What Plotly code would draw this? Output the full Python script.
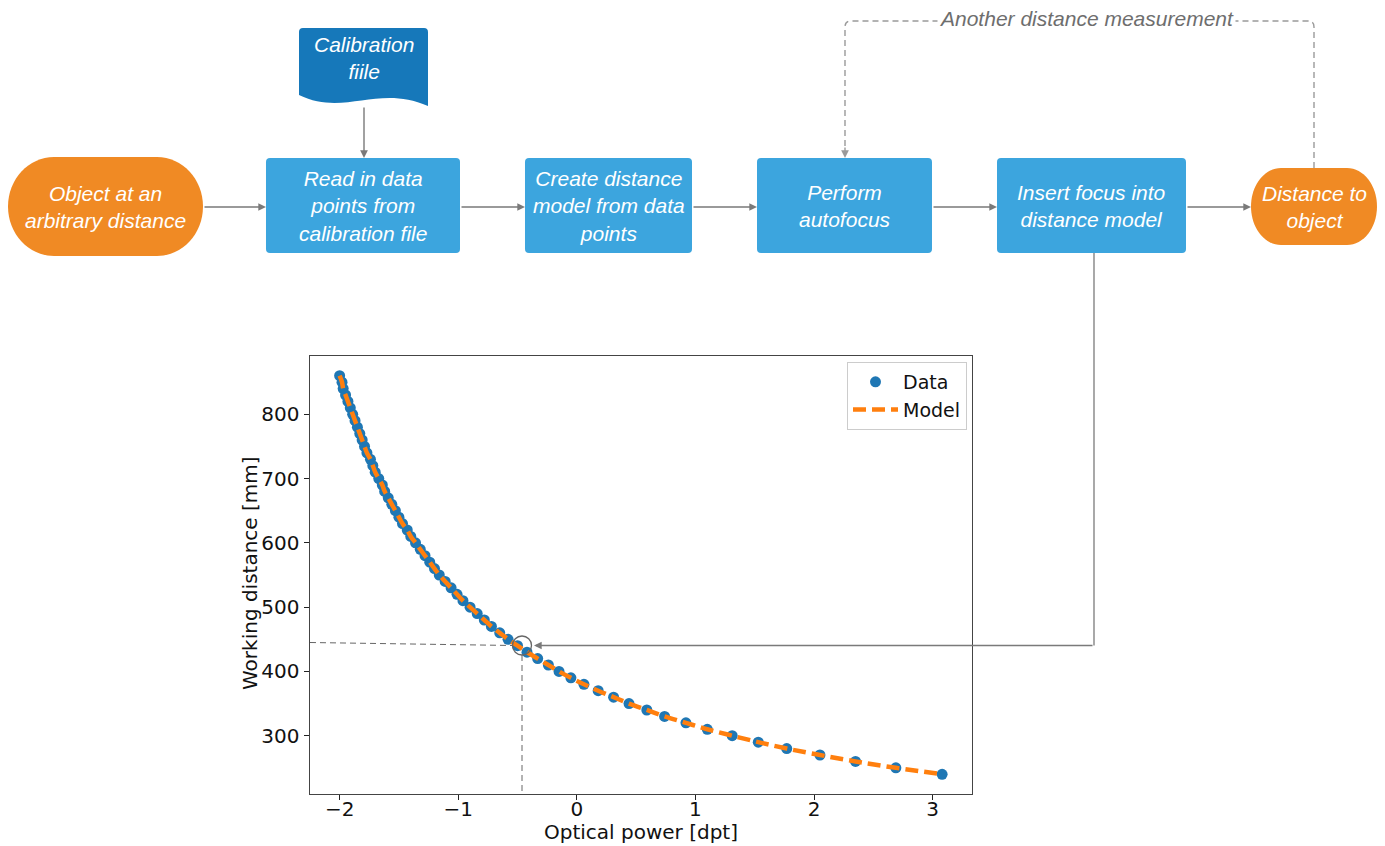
import plotly.graph_objects as go

# ---------------- data ----------------
distance_mm = [860, 850, 840, 830, 820, 810, 800, 790, 780, 770, 760, 750, 740, 730,
               720, 710, 700, 690, 680, 670, 660, 650, 640, 630, 620, 610, 600, 590,
               580, 570, 560, 550, 540, 530, 520, 510, 500, 490, 480, 470, 460, 450,
               440, 430, 420, 410, 400, 390, 380, 370, 360, 350, 340, 330, 320, 310,
               300, 290, 280, 270, 260, 250, 240]
power_dpt = [-2.00, -1.98, -1.97, -1.95, -1.93, -1.91, -1.89, -1.87, -1.85, -1.83,
             -1.81, -1.79, -1.77, -1.74, -1.72, -1.70, -1.67, -1.64, -1.62, -1.59,
             -1.56, -1.53, -1.50, -1.47, -1.43, -1.40, -1.36, -1.32, -1.28, -1.24,
             -1.20, -1.16, -1.11, -1.06, -1.01, -0.96, -0.90, -0.84, -0.78, -0.72,
             -0.65, -0.58, -0.50, -0.42, -0.33, -0.24, -0.15, -0.05, 0.06, 0.18,
             0.31, 0.44, 0.59, 0.74, 0.92, 1.10, 1.31, 1.53, 1.77, 2.05,
             2.35, 2.69, 3.08]
model_power = power_dpt
model_distance = distance_mm

x_tickvals = [-2, -1, 0, 1, 2, 3]
x_ticktext = ["\u22122", "\u22121", "0", "1", "2", "3"]
y_tickvals = [300, 400, 500, 600, 700, 800]
y_ticktext = ["300", "400", "500", "600", "700", "800"]
x_title = "Optical power [dpt]"
y_title = "Working distance [mm]"

flow_labels = {
    "start": "Object at an<br>arbitrary distance",
    "file": "Calibration<br>fiile",
    "read": "Read in data<br>points from<br>calibration file",
    "model": "Create distance<br>model from data<br>points",
    "focus": "Perform<br>autofocus",
    "insert": "Insert focus into<br>distance model",
    "end": "Distance to<br>object",
    "loop": "Another distance measurement",
}

# ---------------- layout helpers ----------------
# the page body has an 8px margin, so the figure starts at (8, 8) in the window
OFF = 8
W, H = 1385 - OFF, 846 - OFF


def px(x):
    return (x - OFF) / W


def py(y):
    return 1 - (y - OFF) / H


def pt(x, y):
    return f"{px(x):.5f},{py(y):.5f}"


def rrect(x0, y0, x1, y1, r):
    return (f"M {pt(x0 + r, y0)} L {pt(x1 - r, y0)} Q {pt(x1, y0)} {pt(x1, y0 + r)} "
            f"L {pt(x1, y1 - r)} Q {pt(x1, y1)} {pt(x1 - r, y1)} "
            f"L {pt(x0 + r, y1)} Q {pt(x0, y1)} {pt(x0, y1 - r)} "
            f"L {pt(x0, y0 + r)} Q {pt(x0, y0)} {pt(x0 + r, y0)} Z")


def terminator(x0, y0, x1, y1, rx, ry):
    k = 0.5523
    return (f"M {pt(x0 + rx, y0)} L {pt(x1 - rx, y0)} "
            f"C {pt(x1 - rx + k * rx, y0)} {pt(x1, y0 + ry - k * ry)} {pt(x1, y0 + ry)} "
            f"L {pt(x1, y1 - ry)} "
            f"C {pt(x1, y1 - ry + k * ry)} {pt(x1 - rx + k * rx, y1)} {pt(x1 - rx, y1)} "
            f"L {pt(x0 + rx, y1)} "
            f"C {pt(x0 + rx - k * rx, y1)} {pt(x0, y1 - ry + k * ry)} {pt(x0, y1 - ry)} "
            f"L {pt(x0, y0 + ry)} "
            f"C {pt(x0, y0 + ry - k * ry)} {pt(x0 + rx - k * rx, y0)} {pt(x0 + rx, y0)} Z")


def document(x0, y0, x1, yl, yr, r):
    return (f"M {pt(x0 + r, y0)} L {pt(x1 - r, y0)} Q {pt(x1, y0)} {pt(x1, y0 + r)} "
            f"L {pt(x1, yr)} C {pt(x1 - 50, yr - 22)} {pt(x0 + 45, yl + 22)} {pt(x0, yl)} "
            f"L {pt(x0, y0 + r)} Q {pt(x0, y0)} {pt(x0 + r, y0)} Z")


ORANGE = "rgb(240,138,36)"
BLUE = "rgb(60,165,222)"
DARKBLUE = "rgb(22,120,186)"
GRAY = "#7a7a7a"
LGRAY = "#9a9a9a"

shapes = []
annotations = []

# flow boxes
shapes.append(dict(type="path", xref="paper", yref="paper", path=terminator(8, 157, 203, 256, 46, 49.5),
                   fillcolor=ORANGE, line=dict(width=0)))
shapes.append(dict(type="path", xref="paper", yref="paper", path=document(299, 28, 428, 95, 106, 4),
                   fillcolor=DARKBLUE, line=dict(width=0)))
boxes = [(266, 460, "read"), (525, 692, "model"), (757, 932, "focus"), (997, 1186, "insert")]
for x0, x1, key in boxes:
    shapes.append(dict(type="path", xref="paper", yref="paper", path=rrect(x0, 158, x1, 253, 4),
                       fillcolor=BLUE, line=dict(width=0)))
shapes.append(dict(type="path", xref="paper", yref="paper", path=terminator(1251, 168, 1377, 245, 30, 38.5),
                   fillcolor=ORANGE, line=dict(width=0)))

# dashed loop
shapes.append(dict(type="path", xref="paper", yref="paper",
                   path=(f"M {pt(1314, 168)} L {pt(1314, 27)} Q {pt(1314, 21)} {pt(1308, 21)} "
                         f"L {pt(851, 21)} Q {pt(845, 21)} {pt(845, 27)} L {pt(845, 150)}"),
                   line=dict(color=LGRAY, width=1.4, dash="6px,4px")))

# connector from "Insert focus" down to the curve
shapes.append(dict(type="line", xref="paper", yref="paper", x0=px(1094), y0=py(253), x1=px(1094), y1=py(645.5),
                   line=dict(color=GRAY, width=1.3)))

# crosshair at working point
shapes.append(dict(type="line", xref="paper", yref="paper", x0=px(310), y0=py(642.5), x1=px(513), y1=py(645.5),
                   line=dict(color="#666", width=1, dash="6px,4px")))
shapes.append(dict(type="line", xref="paper", yref="paper", x0=px(522), y0=py(655), x1=px(522), y1=py(794),
                   line=dict(color="#666", width=1, dash="6px,4px")))
shapes.append(dict(type="circle", xref="paper", yref="paper", x0=px(512.5), y0=py(636), x1=px(531.5), y1=py(655),
                   line=dict(color="#666", width=1.3)))


def arrow(x_tail, y_tail, x_head, y_head, color=GRAY):
    annotations.append(dict(xref="paper", yref="paper", x=px(x_head), y=py(y_head),
                            ax=x_tail - x_head, ay=y_tail - y_head, axref="pixel", ayref="pixel",
                            text="", showarrow=True, arrowhead=2, arrowsize=1.1, arrowwidth=1.4,
                            arrowcolor=color, standoff=0))


arrow(203, 207, 266, 207)
arrow(460, 207, 525, 207)
arrow(692, 207, 757, 207)
arrow(932, 207, 997, 207)
arrow(1186, 207, 1251, 207)
arrow(364, 106, 364, 158)
arrow(845, 146, 845, 158, LGRAY)
arrow(1094, 645.5, 534, 645.5)

FONT = "Liberation Sans"


def label(x, y, key, color="white"):
    annotations.append(dict(xref="paper", yref="paper", x=px(x), y=py(y), xanchor="center", yanchor="middle",
                            text=f"<i>{flow_labels[key]}</i>", showarrow=False,
                            font=dict(family=FONT, size=21, color=color)))


label(105.5, 206.5, "start")
label(364, 58, "file")
label(363, 205.5, "read")
label(608.5, 205.5, "model")
label(844.5, 205.5, "focus")
label(1091.5, 205.5, "insert")
label(1314, 206.5, "end")
annotations.append(dict(xref="paper", yref="paper", x=px(1086), y=py(19), xanchor="center", yanchor="middle",
                        text=f"<i>{flow_labels['loop']}</i>", showarrow=False, bgcolor="white",
                        font=dict(family=FONT, size=21, color="#6e6e6e")))

tickfont = dict(family="DejaVu Sans", size=20, color="#111")

# axis titles placed precisely
annotations.append(dict(xref="paper", yref="paper", x=px(641), y=py(832), xanchor="center", yanchor="middle",
                        text=x_title, showarrow=False, font=tickfont))
annotations.append(dict(xref="paper", yref="paper", x=px(250), y=py(573), xanchor="center", yanchor="middle",
                        text=y_title, showarrow=False, font=tickfont, textangle=-90))

# ---------------- figure ----------------
fig = go.Figure()
fig.add_trace(go.Scatter(x=power_dpt, y=distance_mm, mode="markers", name="Data",
                         marker=dict(color="#1f77b4", size=11)))
fig.add_trace(go.Scatter(x=model_power, y=model_distance, mode="lines", name="Model",
                         line=dict(color="#ff7f0e", width=4.5, dash="13px,6px", shape="spline")))

fig.update_layout(
    width=W, height=H,
    margin=dict(l=0, r=0, t=0, b=0),
    paper_bgcolor="white", plot_bgcolor="white",
    showlegend=True,
    legend=dict(x=px(967), y=py(362), xanchor="right", yanchor="top",
                bgcolor="white", bordercolor="#cccccc", borderwidth=1,
                font=dict(family="DejaVu Sans", size=19, color="#111"),
                itemwidth=45),
    xaxis=dict(domain=[px(309.5), px(972)], range=[-2.254, 3.332], tickvals=x_tickvals, ticktext=x_ticktext,
               showgrid=False, zeroline=False, showline=True, mirror=True, linecolor="#444", linewidth=1,
               ticks="outside", ticklen=5, tickcolor="#222", tickfont=tickfont, automargin=False,
               ticklabelstandoff=-8),
    yaxis=dict(domain=[py(794.2), py(355.8)], range=[209, 891], tickvals=y_tickvals, ticktext=y_ticktext,
               showgrid=False, zeroline=False, showline=True, mirror=True, linecolor="#444", linewidth=1,
               ticks="outside", ticklen=5, tickcolor="#222", tickfont=tickfont, automargin=False),
    shapes=shapes,
    annotations=annotations,
)

fig.write_html("out.html")
